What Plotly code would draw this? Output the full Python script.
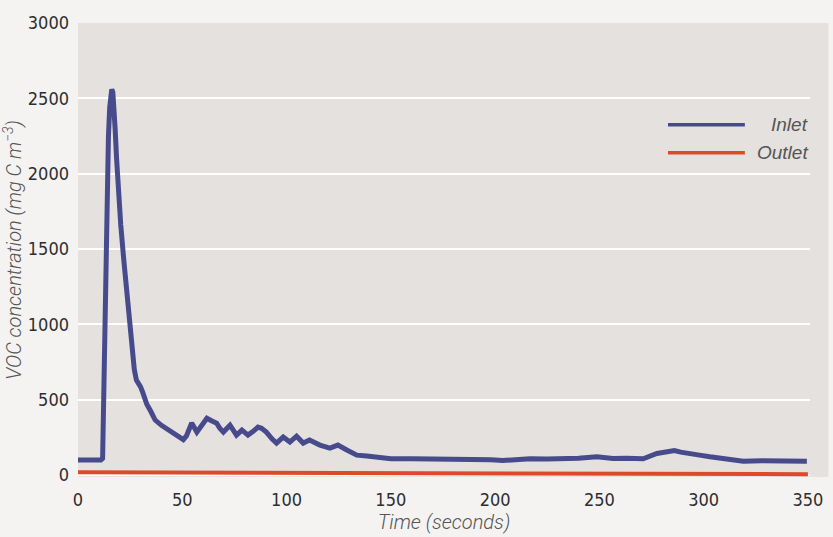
import plotly.graph_objects as go

# Inlet VOC concentration trace (time in s, concentration in mg C m^-3)
inlet_time = [0, 11, 11.8, 12.5, 13.2, 13.8, 14.6, 15.2, 15.7, 16.2, 16.7, 17.2, 17.8,
              18.5, 19.2, 20.5, 22, 23.5, 25, 26, 27, 28, 29, 30, 31, 33, 35, 37, 40,
              43, 47, 50.5, 52, 54.5, 57, 59, 61.8, 64, 66.5, 68, 69.7, 72.9, 76, 78.6,
              81.5, 84, 86.3, 88, 90.3, 93, 95.2, 98.4, 101.6, 104.8, 108, 111, 116,
              120.8, 124.6, 128.9, 133.7, 138.5, 144.8, 150, 160, 168.7, 176, 184.6,
              192.7, 198, 203.7, 210, 216.7, 225, 232.5, 240, 248.8, 256.5, 263, 271,
              277.6, 286, 289, 293.4, 298, 303, 312.6, 319, 328, 336.5, 343, 349.5]
inlet_voc = [100, 100, 110, 700, 1400, 1880, 2250, 2440, 2530, 2560, 2540, 2460, 2300,
             2100, 1880, 1660, 1420, 1205, 980, 808, 700, 630, 610, 585, 550, 470, 420,
             365, 330, 300, 270, 235, 260, 345, 285, 320, 377, 360, 344, 310, 285, 331,
             265, 298, 265, 290, 318, 310, 285, 240, 212, 252, 219, 258, 212, 232, 199,
             179, 199, 166, 132, 126, 112, 108, 108, 108, 104, 106, 108, 102, 96, 102,
             108, 106, 106, 112, 121, 110, 112, 108, 143, 163, 152, 139, 132, 121, 108,
             92, 95, 97, 95, 92]

# Outlet VOC concentration trace
outlet_time = [0, 100, 200, 300, 350]
outlet_voc = [18, 15, 11, 8, 6]

x_ticks = [0, 50, 100, 150, 200, 250, 300, 350]
y_ticks = [0, 500, 1000, 1500, 2000, 2500, 3000]

INLET_COLOR = "#474b8c"
OUTLET_COLOR = "#dc4a2a"
PANEL = "#e4e1de"
TICK_FONT = dict(family="DejaVu Sans Condensed, Liberation Sans Narrow, sans-serif",
                 size=18, color="#2e2e2e")
TITLE_FONT = dict(family="Roboto, Liberation Sans, sans-serif", size=20,
                  color="#555555", style="italic", weight=300)

fig = go.Figure()
fig.add_trace(go.Scatter(x=outlet_time, y=outlet_voc, mode="lines", name="Outlet",
                         line=dict(color=OUTLET_COLOR, width=4), showlegend=False))
fig.add_trace(go.Scatter(x=inlet_time, y=inlet_voc, mode="lines", name="Inlet",
                         line=dict(color=INLET_COLOR, width=5), showlegend=False))

# Panel background runs a little past the last gridline
fig.add_shape(type="rect", xref="paper", yref="paper", x0=0, x1=1.025, y0=0, y1=1,
              fillcolor=PANEL, line=dict(width=0), layer="below")

# Hand-placed legend: long line samples with right-aligned italic labels
legend_items = [("Inlet", INLET_COLOR, 0.776), ("Outlet", OUTLET_COLOR, 0.714)]
for label, color, ypos in legend_items:
    fig.add_shape(type="line", xref="paper", yref="paper", x0=0.806, x1=0.911,
                  y0=ypos, y1=ypos, line=dict(color=color, width=3.5))
    fig.add_annotation(text=label, xref="paper", yref="paper", x=1.0, y=ypos,
                       xanchor="right", yanchor="middle", showarrow=False,
                       font=dict(family="Liberation Sans, Arial, sans-serif", size=19,
                                 color="#555555", style="italic"))

fig.update_layout(
    width=833, height=537,
    margin=dict(l=78, r=23, t=23, b=60),
    paper_bgcolor="#f4f3f1",
    plot_bgcolor=PANEL,
    showlegend=False,
)
fig.update_xaxes(range=[0, 351], tickvals=x_ticks, showgrid=False, zeroline=False,
                 showline=False, ticks="", tickfont=TICK_FONT, ticklabelstandoff=10,
                 automargin=False,
                 title=dict(text="Time (seconds)", font=TITLE_FONT, standoff=0))
fig.update_yaxes(range=[-13, 3000], tickvals=y_ticks, showgrid=True, gridcolor="#ffffff",
                 gridwidth=1.5, zeroline=False, showline=False, ticks="",
                 tickfont=TICK_FONT, ticklabelstandoff=8, automargin=False,
                 title=dict(text="VOC concentration (mg C m<sup>−3</sup>)",
                            font=TITLE_FONT, standoff=2))

fig.write_html("out.html")
